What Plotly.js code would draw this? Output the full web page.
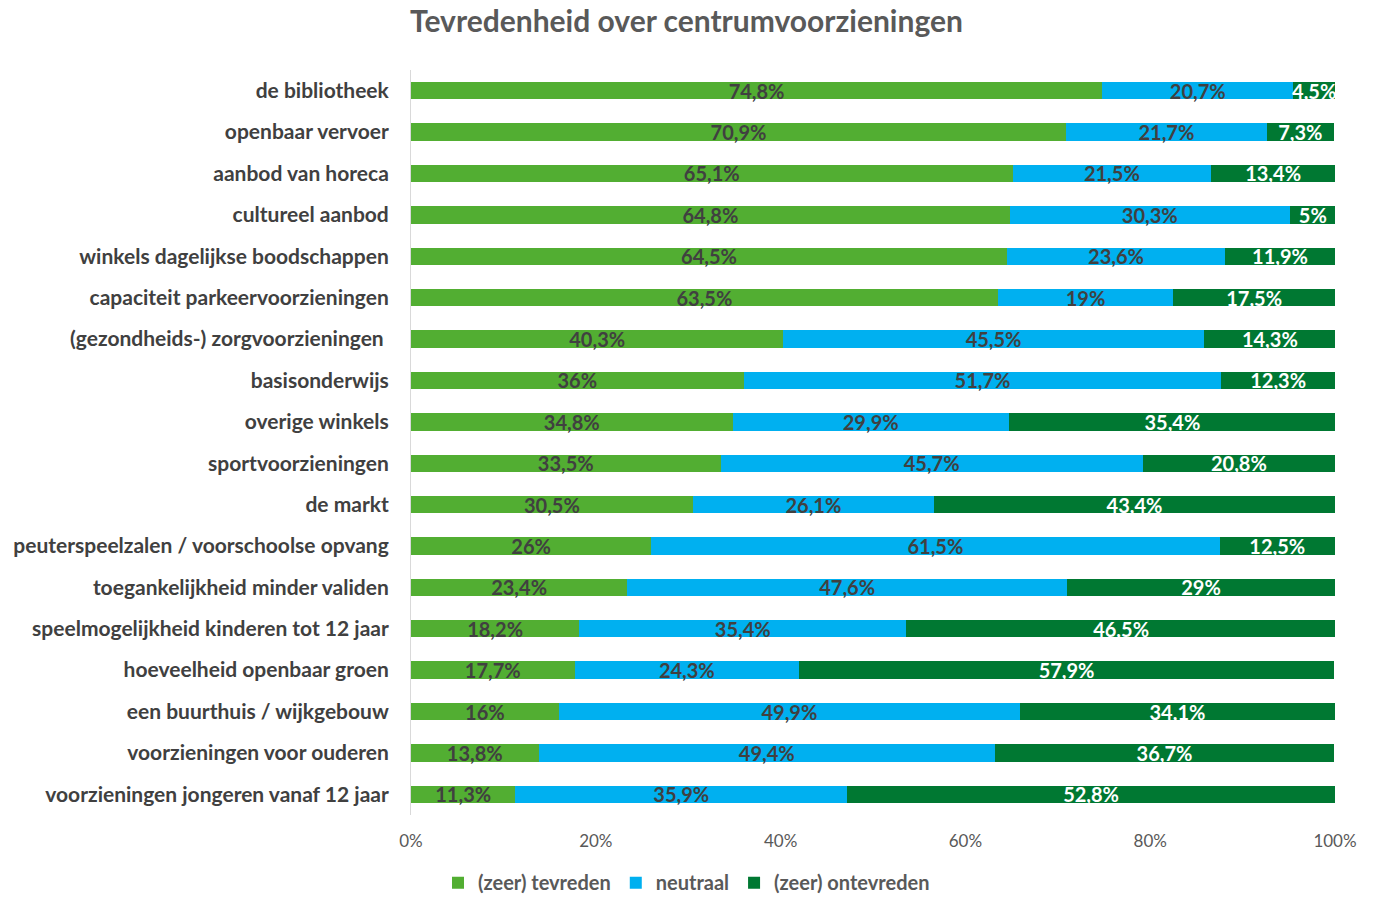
<!DOCTYPE html>
<html>
<head>
<meta charset="utf-8">
<script src="https://cdn.plot.ly/plotly-3.0.1.min.js"></script>
<style>html,body{margin:0;padding:0;background:#fff;}#chart{width:1373px;height:897px;}</style>
</head>
<body>
<div id="chart"></div>
<script>
const categories = [
  "de bibliotheek",
  "openbaar vervoer",
  "aanbod van horeca",
  "cultureel aanbod",
  "winkels dagelijkse boodschappen",
  "capaciteit parkeervoorzieningen",
  "(gezondheids-) zorgvoorzieningen ",
  "basisonderwijs",
  "overige winkels",
  "sportvoorzieningen",
  "de markt",
  "peuterspeelzalen / voorschoolse opvang",
  "toegankelijkheid minder validen",
  "speelmogelijkheid kinderen tot 12 jaar",
  "hoeveelheid openbaar groen",
  "een buurthuis / wijkgebouw",
  "voorzieningen voor ouderen",
  "voorzieningen jongeren vanaf 12 jaar"
];
const tevreden = [74.8, 70.9, 65.1, 64.8, 64.5, 63.5, 40.3, 36, 34.8, 33.5, 30.5, 26, 23.4, 18.2, 17.7, 16, 13.8, 11.3];
const neutraal = [20.7, 21.7, 21.5, 30.3, 23.6, 19, 45.5, 51.7, 29.9, 45.7, 26.1, 61.5, 47.6, 35.4, 24.3, 49.9, 49.4, 35.9];
const ontevreden = [4.5, 7.3, 13.4, 5, 11.9, 17.5, 14.3, 12.3, 35.4, 20.8, 43.4, 12.5, 29, 46.5, 57.9, 34.1, 36.7, 52.8];
const seriesNames = ["(zeer) tevreden", "neutraal", "(zeer) ontevreden"];
const xTicks = [0, 20, 40, 60, 80, 100];

const FONT = "Lato, 'Open Sans', sans-serif";
const fmt = v => String(v).replace('.', ',') + '%';

function mk(name, vals, color, txtColor) {
  return {
    type: 'bar', orientation: 'h', name: name,
    y: categories, x: vals,
    marker: {color: color, line: {width: 0}},
    text: vals.map(fmt),
    textposition: 'inside', insidetextanchor: 'middle',
    textangle: 0, constraintext: 'none',
    insidetextfont: {family: FONT, size: 20, color: txtColor, weight: 'bold'},
    hoverinfo: 'none'
  };
}

const data = [
  mk(seriesNames[0], tevreden, '#52AE32', '#404040'),
  mk(seriesNames[1], neutraal, '#00B0F0', '#404040'),
  mk(seriesNames[2], ontevreden, '#007832', '#FFFFFF')
];

const layout = {
  width: 1373, height: 897,
  margin: {l: 411, r: 38, t: 70, b: 82, autoexpand: false},
  barmode: 'stack', bargap: 0.58,
  paper_bgcolor: '#fff', plot_bgcolor: '#fff',
  font: {family: FONT, color: '#595959'},
  title: {text: 'Tevredenheid over centrumvoorzieningen', x: 0.5, xanchor: 'center', y: 0.9755, yanchor: 'middle',
          font: {family: FONT, size: 30, color: '#595959', weight: 'bold'}},
  xaxis: {range: [0, 100], tickvals: xTicks, ticktext: xTicks.map(v => v + '%'),
          showgrid: false, zeroline: false, showline: false, ticks: '', ticklabelstandoff: 14,
          tickfont: {family: FONT, size: 17, color: '#595959'}, fixedrange: true},
  yaxis: {autorange: 'reversed', showgrid: false, zeroline: false, showline: true, linecolor: '#D9D9D9', linewidth: 1,
          ticks: '', ticklabelstandoff: 17,
          tickfont: {family: FONT, size: 21, color: '#404040', weight: 'bold'}, fixedrange: true},
  legend: {orientation: 'h', x: 0.5, xanchor: 'center', xref: 'container', y: 0.016, yanchor: 'middle', yref: 'container',
           font: {family: FONT, size: 20, color: '#595959', weight: 'bold'}, traceorder: 'normal', itemwidth: 30},
  showlegend: true
};

Plotly.newPlot('chart', data, layout, {displayModeBar: false, staticPlot: true});
</script>
</body>
</html>
